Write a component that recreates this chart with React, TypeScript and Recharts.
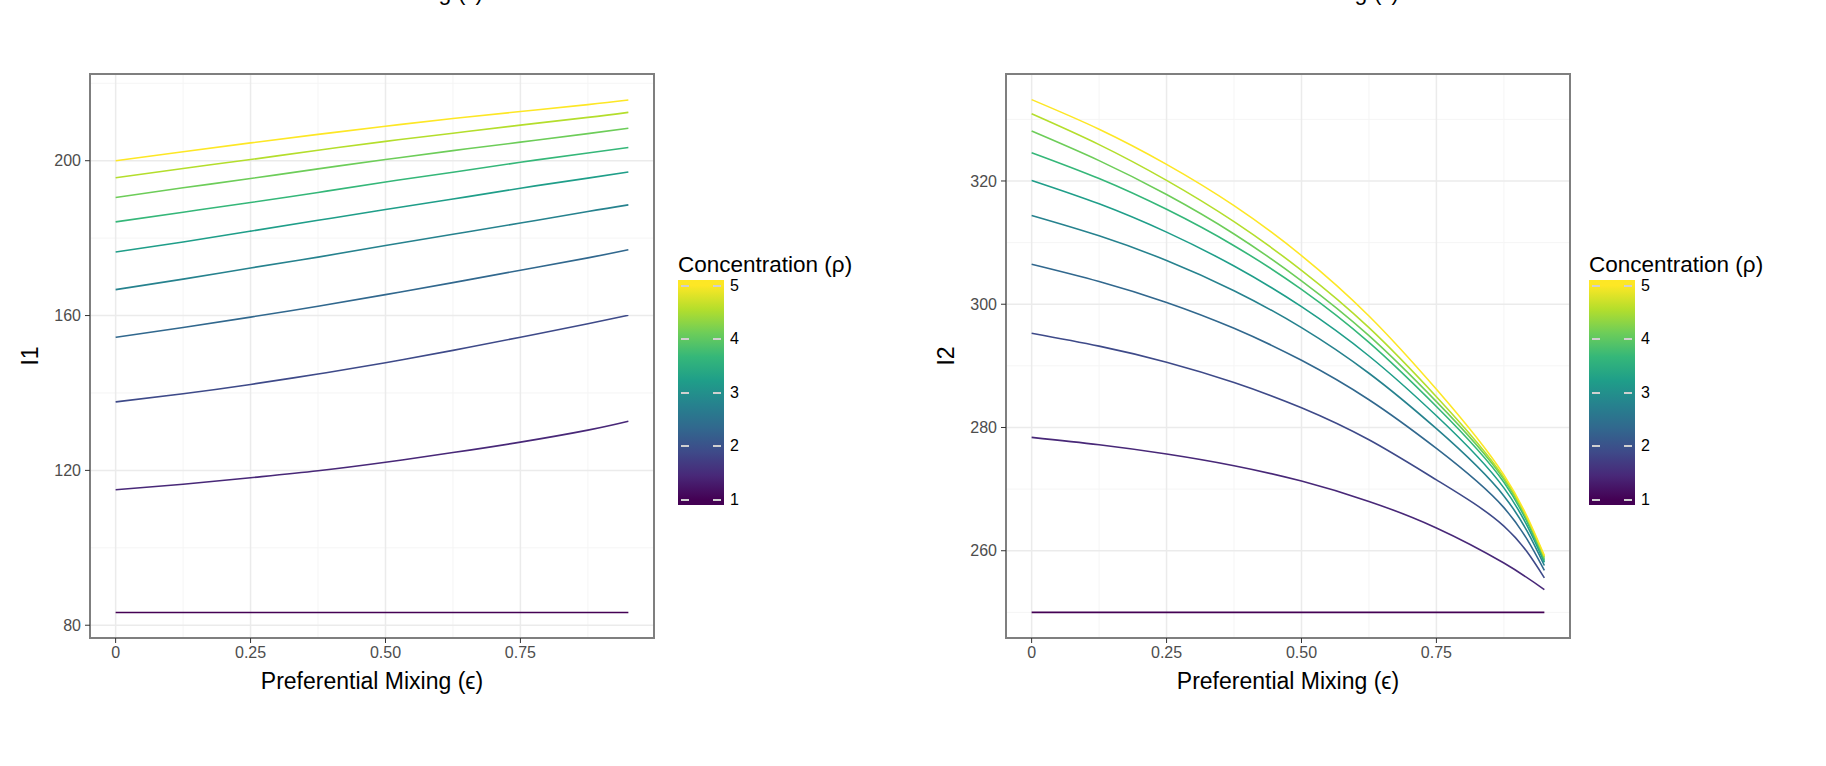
import { LineChart, Line, XAxis, YAxis, CartesianGrid, ReferenceArea } from 'recharts';

// preferential mixing values on the x axis
const EPS = [0, 0.125, 0.25, 0.375, 0.5, 0.625, 0.75, 0.875, 0.95];
const X_TICKS = [0, 0.25, 0.5, 0.75];
const X_TICK_LABELS = ['0', '0.25', '0.50', '0.75'];
const X_MINOR = [0.125, 0.375, 0.625, 0.875];

// concentration levels, low -> high
const RHO = [1, 1.44, 1.89, 2.33, 2.78, 3.22, 3.67, 4.11, 4.56, 5];
const VIRIDIS = ['#440154', '#482878', '#3E4A89', '#31688E', '#26828E', '#1F9E89', '#35B779', '#6DCD59', '#B4DE2C', '#FDE725'];
const LEGEND_TICKS = [5, 4, 3, 2, 1];

// I1 panel, one array per concentration
const I1_R1 = [83.3, 83.3, 83.3, 83.3, 83.3, 83.3, 83.3, 83.3, 83.3];
const I1_R2 = [115.0, 116.4, 118.1, 119.9, 122.1, 124.6, 127.3, 130.4, 132.7];
const I1_R3 = [137.7, 139.8, 142.2, 144.9, 147.8, 151.0, 154.4, 157.9, 160.1];
const I1_R4 = [154.4, 156.9, 159.6, 162.4, 165.4, 168.5, 171.7, 174.9, 177.0];
const I1_R5 = [166.7, 169.4, 172.3, 175.1, 178.1, 181.0, 183.9, 186.9, 188.6];
const I1_R6 = [176.4, 179.0, 181.8, 184.6, 187.4, 190.1, 192.9, 195.5, 197.1];
const I1_R7 = [184.2, 186.7, 189.2, 191.8, 194.5, 197.0, 199.6, 202.0, 203.4];
const I1_R8 = [190.5, 193.0, 195.4, 197.9, 200.3, 202.6, 204.8, 207.0, 208.4];
const I1_R9 = [195.6, 198.0, 200.3, 202.7, 205.0, 207.1, 209.2, 211.2, 212.5];
const I1_R10 = [200.0, 202.3, 204.6, 206.8, 208.9, 210.9, 212.7, 214.5, 215.7];
const I1_TICKS = [80, 120, 160, 200];
const I1_MINOR = [100, 140, 180, 220];

// I2 panel
const I2_R1 = [250.0, 250.0, 250.0, 250.0, 250.0, 250.0, 250.0, 250.0, 250.0];
const I2_R2 = [278.4, 277.2, 275.7, 273.8, 271.3, 268.0, 263.7, 258.0, 253.7];
const I2_R3 = [295.3, 293.2, 290.6, 287.3, 283.2, 278.0, 271.5, 264.0, 255.6];
const I2_R4 = [306.5, 303.7, 300.3, 296.1, 290.9, 284.5, 276.6, 267.0, 256.8];
const I2_R5 = [314.4, 311.1, 307.1, 302.2, 296.2, 288.8, 279.8, 268.9, 257.6];
const I2_R6 = [320.1, 316.3, 311.7, 306.2, 299.6, 291.6, 281.9, 270.2, 258.1];
const I2_R7 = [324.6, 320.4, 315.4, 309.5, 302.4, 293.8, 283.4, 271.1, 258.4];
const I2_R8 = [328.1, 323.3, 317.8, 311.4, 303.8, 294.9, 284.2, 271.6, 258.7];
const I2_R9 = [330.9, 325.9, 320.1, 313.4, 305.5, 296.2, 285.0, 271.9, 259.0];
const I2_R10 = [333.2, 328.4, 322.7, 316.0, 307.9, 298.1, 286.2, 272.3, 259.2];
const I2_TICKS = [260, 280, 300, 320];
const I2_MINOR = [250, 270, 290, 310, 330];

const FONT = '"Liberation Sans", Arial, Helvetica, sans-serif';
const X_DOMAIN = [-0.0475, 0.9975];

function buildRows(series: number[][]) {
  return EPS.map((eps, i) => {
    const row: Record<string, number> = { eps };
    series.forEach((s, k) => {
      row['r' + k] = s[i];
    });
    return row;
  });
}

interface PanelProps {
  left: number;
  series: number[][];
  yDomain: number[];
  yTicks: number[];
  yMinor: number[];
  yLabel: string;
  legendLeft: number;
}

function Panel({ left, series, yDomain, yTicks, yMinor, yLabel, legendLeft }: PanelProps) {
  const rows = buildRows(series);
  const barTop = 280;
  const barH = 225;
  const pad = 5.5;
  const step = (barH - 2 * pad) / 4;
  const stops = VIRIDIS.map((c, k) => `${c} ${pad + (k * (barH - 2 * pad)) / (VIRIDIS.length - 1)}px`).join(', ');

  return (
    <>
      {/* bottom of the title row above, cut by the page edge */}
      <div
        style={{
          position: 'absolute',
          left: left + 90,
          width: 564,
          top: -19,
          fontSize: 23,
          lineHeight: '23px',
          textAlign: 'center',
          color: '#000',
        }}
      >
        Preferential Mixing (ϵ)
      </div>
      <div style={{ position: 'absolute', left, top: 0 }}>
        <LineChart width={664} height={766} data={rows} margin={{ top: 74, right: 10, left: 0, bottom: 68 }}>
          <CartesianGrid stroke="#f5f5f5" strokeWidth={1} horizontalValues={yMinor} verticalValues={X_MINOR} />
          <CartesianGrid stroke="#ebebeb" strokeWidth={1.5} />
          <XAxis
            dataKey="eps"
            type="number"
            domain={X_DOMAIN}
            ticks={X_TICKS}
            tickFormatter={(v) => X_TICK_LABELS[X_TICKS.indexOf(v)] ?? String(v)}
            allowDataOverflow
            axisLine={false}
            tickSize={5}
            tickMargin={4}
            tickLine={{ stroke: '#333333' }}
            tick={{ fill: '#4d4d4d', fontSize: 16 }}
            height={60}
            label={{ value: 'Preferential Mixing (ϵ)', position: 'insideBottom', offset: 9, fill: '#000', fontSize: 23 }}
          />
          <YAxis
            type="number"
            domain={yDomain}
            ticks={yTicks}
            allowDataOverflow
            axisLine={false}
            tickSize={5}
            tickMargin={4}
            tickLine={{ stroke: '#333333' }}
            tick={{ fill: '#4d4d4d', fontSize: 16 }}
            width={90}
            label={{
              value: yLabel,
              angle: -90,
              position: 'insideLeft',
              offset: 30,
              fill: '#000',
              fontSize: 23,
              style: { textAnchor: 'middle' },
            }}
          />
          {series.map((_, k) => (
            <Line
              key={k}
              type="natural"
              dataKey={'r' + k}
              name={`ρ = ${RHO[k]}`}
              stroke={VIRIDIS[k]}
              strokeWidth={1.6}
              dot={false}
              isAnimationActive={false}
            />
          ))}
          <ReferenceArea
            x1={X_DOMAIN[0]}
            x2={X_DOMAIN[1]}
            y1={yDomain[0]}
            y2={yDomain[1]}
            fill="none"
            stroke="#7f7f7f"
            strokeWidth={2}
            ifOverflow="visible"
          />
        </LineChart>
      </div>

      <div style={{ position: 'absolute', left: legendLeft, top: 252, fontSize: 22.5, lineHeight: '26px', color: '#000', whiteSpace: 'nowrap' }}>
        Concentration (ρ)
      </div>
      <div
        style={{
          position: 'absolute',
          left: legendLeft,
          top: barTop,
          width: 46,
          height: barH,
          background: `linear-gradient(to top, ${stops})`,
        }}
      >
        {LEGEND_TICKS.map((v, i) => (
          <div key={v}>
            <div style={{ position: 'absolute', left: 3, top: pad + i * step - 1, width: 8, height: 2, background: '#d0d0d0' }} />
            <div style={{ position: 'absolute', left: 35, top: pad + i * step - 1, width: 8, height: 2, background: '#d0d0d0' }} />
            <div
              style={{
                position: 'absolute',
                left: 52,
                top: pad + i * step - 10,
                fontSize: 16,
                lineHeight: '20px',
                color: '#000',
              }}
            >
              {v}
            </div>
          </div>
        ))}
      </div>
    </>
  );
}

export default function App() {
  const i1 = [I1_R1, I1_R2, I1_R3, I1_R4, I1_R5, I1_R6, I1_R7, I1_R8, I1_R9, I1_R10];
  const i2 = [I2_R1, I2_R2, I2_R3, I2_R4, I2_R5, I2_R6, I2_R7, I2_R8, I2_R9, I2_R10];
  return (
    <div
      style={{
        position: 'absolute',
        left: 0,
        top: 0,
        width: 1826,
        height: 766,
        background: '#fff',
        fontFamily: FONT,
        overflow: 'hidden',
      }}
    >
      <Panel left={0} series={i1} yDomain={[76.7, 222.4]} yTicks={I1_TICKS} yMinor={I1_MINOR} yLabel="I1" legendLeft={678} />
      <Panel left={916} series={i2} yDomain={[245.84, 337.36]} yTicks={I2_TICKS} yMinor={I2_MINOR} yLabel="I2" legendLeft={1589} />
    </div>
  );
}
